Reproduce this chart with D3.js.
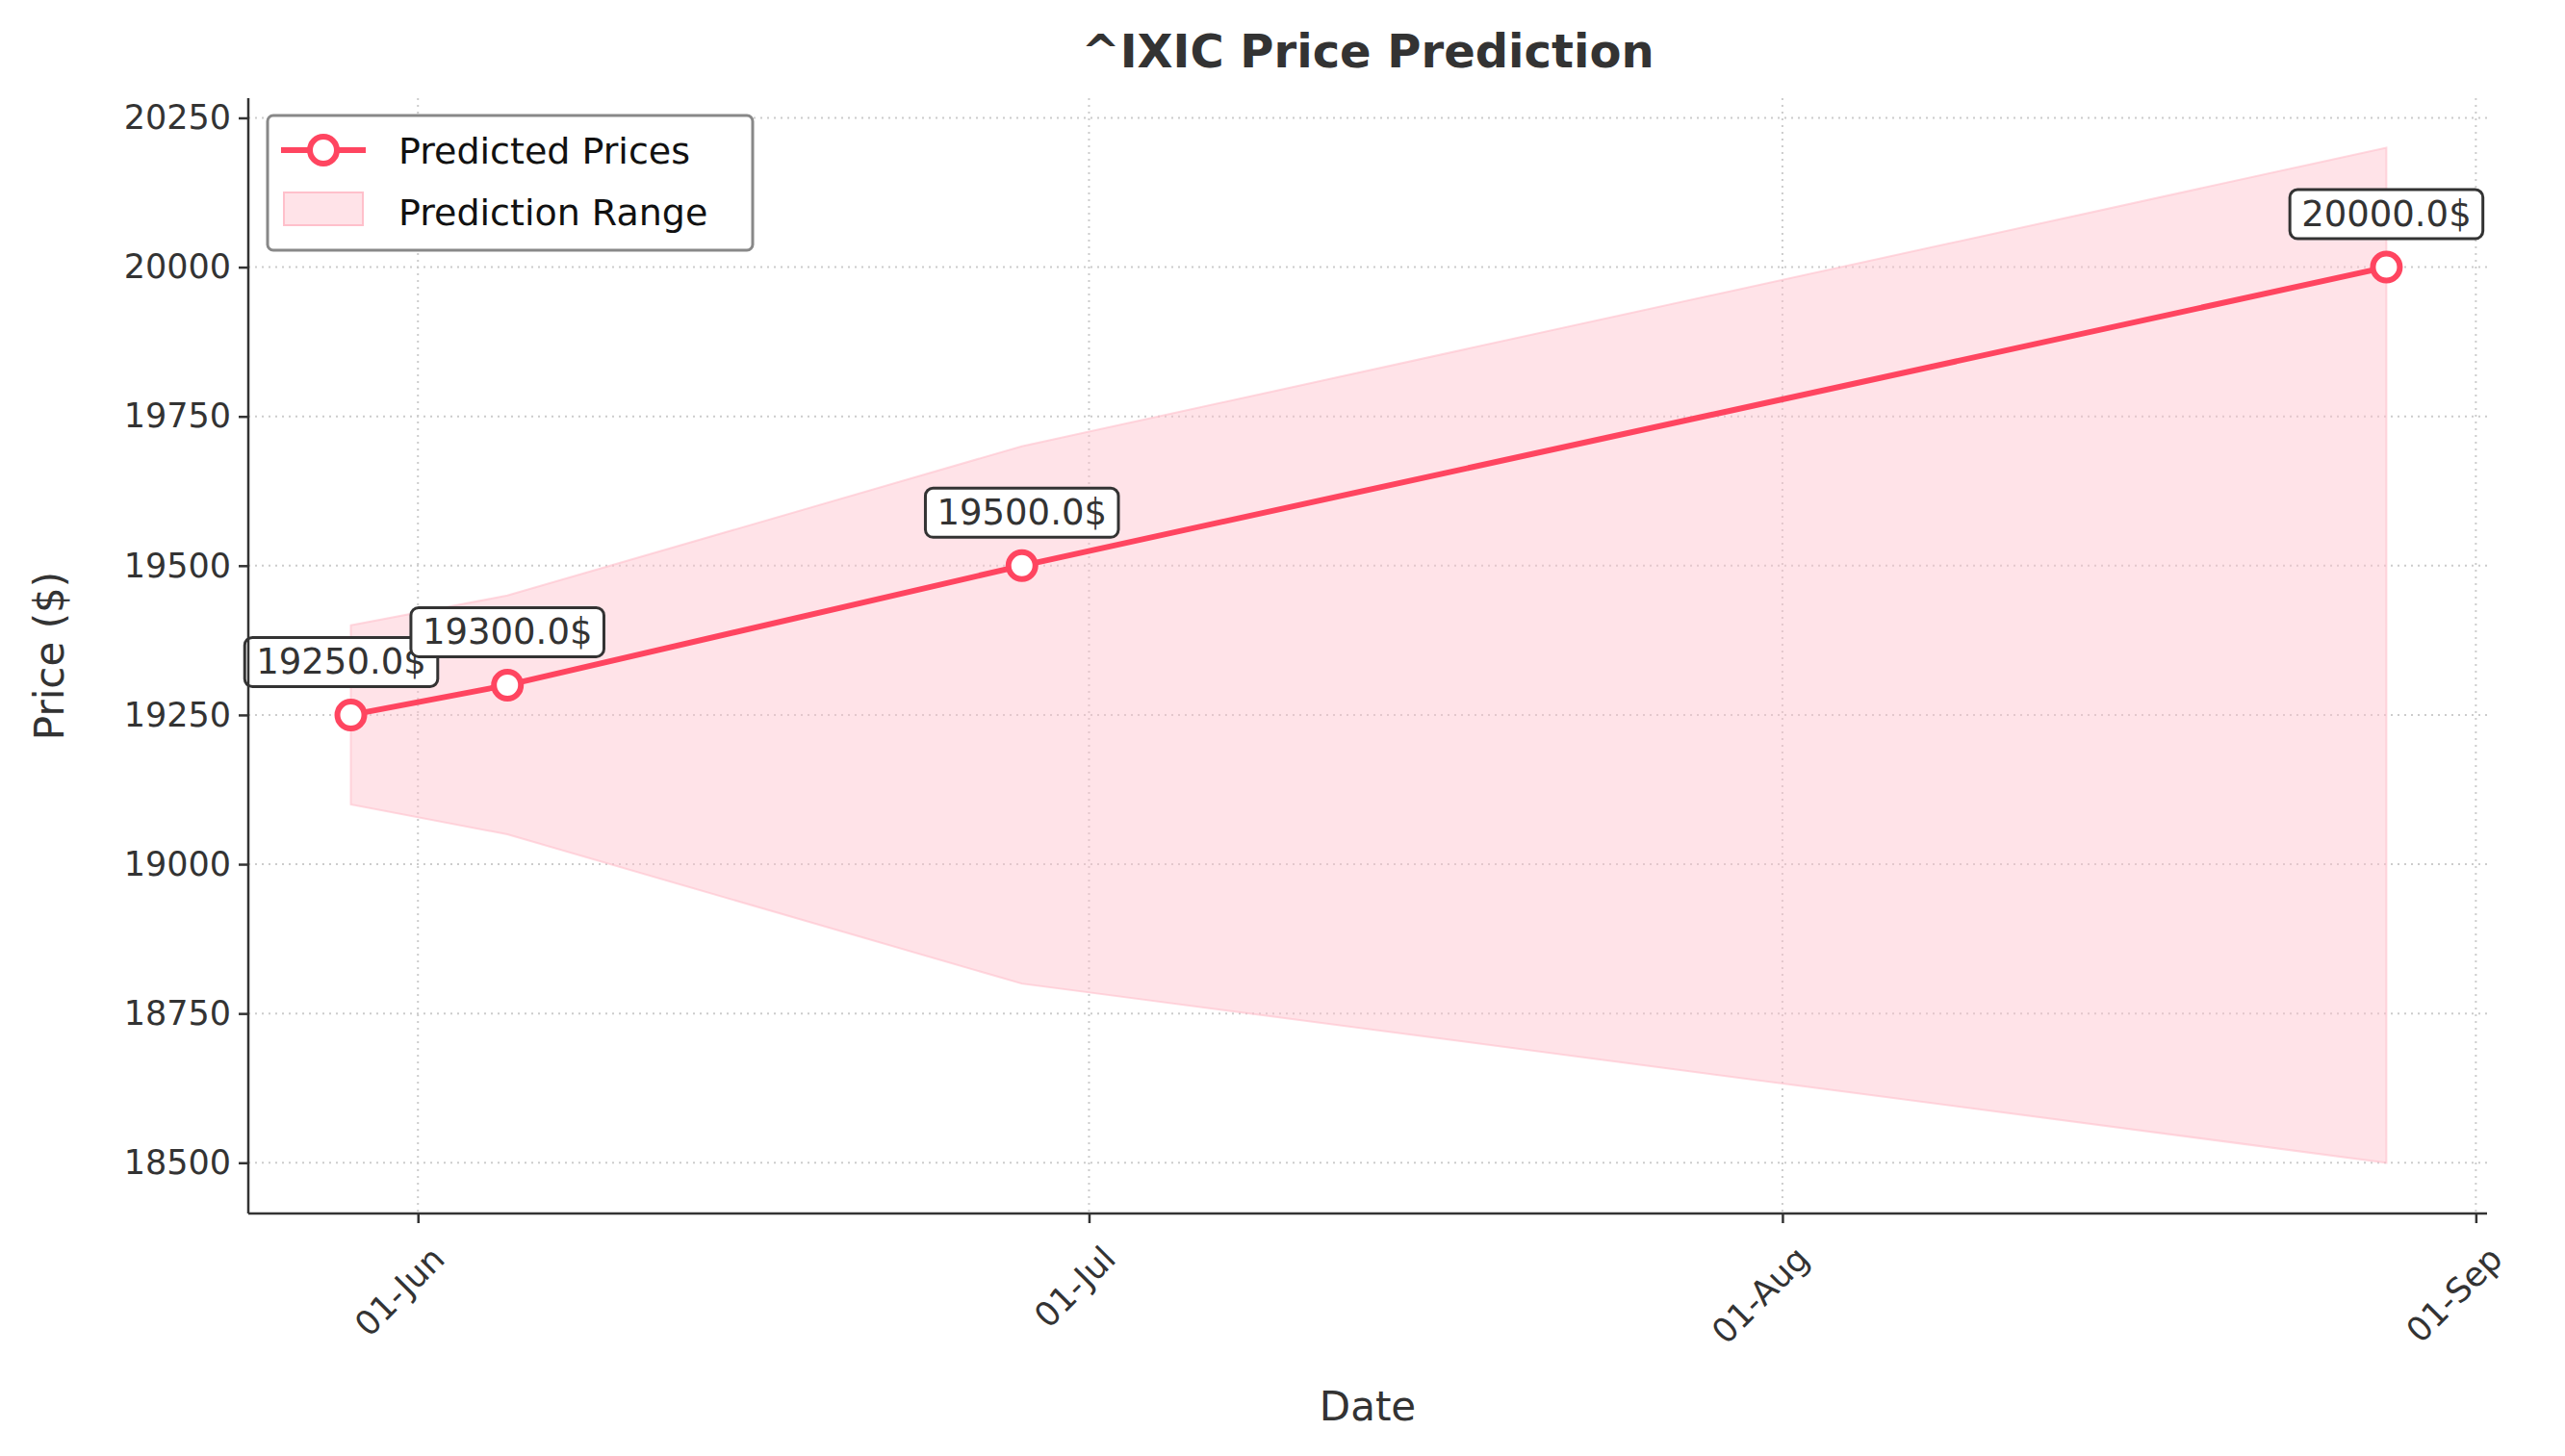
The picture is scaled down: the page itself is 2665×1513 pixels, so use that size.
<!DOCTYPE html><html><head><script src="https://cdn.jsdelivr.net/npm/d3@7"></script>
<style>body{margin:0;background:#fff}text{font-family:"DejaVu Sans";fill:#333}</style></head><body>
<svg id="c" width="2665" height="1513"></svg>
<script>
const dates=["2024-05-29","2024-06-05","2024-06-28","2024-08-28"];
const predicted=[19250,19300,19500,20000];
const upper=[19400,19450,19700,20200];
const lower=[19100,19050,18800,18500];
const yTicks=[18500,18750,19000,19250,19500,19750,20000,20250];
const xTicks=["2024-06-01","2024-07-01","2024-08-01","2024-09-01"];
const P=d3.timeParse("%Y-%m-%d");
const svg=d3.select("#c");
const L=258,R=2584,T=102,B=1261,col="#ff4560";
const x=d3.scaleTime().domain([new Date(2024,4,24,10),new Date(2024,8,1,12)]).range([L,R]);
const y=d3.scaleLinear().domain([18415,20283]).range([B,T]);
const data=dates.map((d,i)=>({d:P(d),p:predicted[i],u:upper[i],l:lower[i]}));
yTicks.forEach(v=>svg.append("line").attr("x1",L).attr("x2",R).attr("y1",y(v)).attr("y2",y(v)).attr("stroke","#ccc").attr("stroke-width",2).attr("stroke-dasharray","2,5"));
xTicks.forEach(v=>svg.append("line").attr("y1",T).attr("y2",B).attr("x1",x(P(v))).attr("x2",x(P(v))).attr("stroke","#ccc").attr("stroke-width",2).attr("stroke-dasharray","2,5"));
svg.append("path").datum(data).attr("d",d3.area().x(d=>x(d.d)).y0(d=>y(d.l)).y1(d=>y(d.u))).attr("fill","#ffc0cb").attr("fill-opacity",0.45).attr("stroke","#ffc0cb").attr("stroke-opacity",0.6).attr("stroke-width",2);
svg.append("path").datum(data).attr("d",d3.line().x(d=>x(d.d)).y(d=>y(d.p))).attr("fill","none").attr("stroke",col).attr("stroke-width",6);
svg.selectAll(".pt").data(data).join("circle").attr("cx",d=>x(d.d)).attr("cy",d=>y(d.p)).attr("r",14).attr("fill","#fff").attr("stroke",col).attr("stroke-width",6);
data.forEach(d=>{
 const cx=x(d.d)+ (d.p===19250?-10:0),cy=y(d.p)-55;
 const g=svg.append("g");
 const t=g.append("text").attr("x",cx).attr("y",cy).attr("text-anchor","middle").attr("dominant-baseline","central").attr("font-size",37).text(d.p.toFixed(1)+"$");
 const bb=t.node().getBBox();
 g.insert("rect","text").attr("x",bb.x-12).attr("y",bb.y-4).attr("width",bb.width+24).attr("height",bb.height+8).attr("rx",8).attr("fill","#fff").attr("stroke","#333").attr("stroke-width",3);
});
const ya=svg.append("g").attr("transform",`translate(${L},0)`).call(d3.axisLeft(y).tickValues(yTicks).tickFormat(d3.format("d")).tickSize(10).tickPadding(8));
const xa=svg.append("g").attr("transform",`translate(0,${B})`).call(d3.axisBottom(x).tickValues(xTicks.map(P)).tickFormat(d3.timeFormat("%d-%b")).tickSize(10));
[ya,xa].forEach(a=>{a.selectAll("path,line").attr("stroke","#333").attr("stroke-width",2.5);a.selectAll("text").attr("font-size",35).style("fill","#333").attr("font-family","DejaVu Sans");});
xa.select(".domain").attr("d",`M${L},0H${R}`);ya.select(".domain").attr("d",`M0,${T}V${B}`);
xa.selectAll("text").attr("text-anchor","end").attr("dy","0").attr("transform","translate(20,40) rotate(-45)");
svg.append("text").attr("x",(L+R)/2).attr("y",70).attr("text-anchor","middle").attr("font-size",48).attr("font-weight","bold").text("^IXIC Price Prediction");
svg.append("text").attr("x",(L+R)/2).attr("y",1476).attr("text-anchor","middle").attr("font-size",42).text("Date");
svg.append("text").attr("transform",`translate(66,${(T+B)/2}) rotate(-90)`).attr("text-anchor","middle").attr("font-size",42).text("Price ($)");
const lg=svg.append("g");
lg.append("rect").attr("x",278).attr("y",120).attr("width",504).attr("height",140).attr("rx",6).attr("fill","#fff").attr("stroke","#888").attr("stroke-width",3);
lg.append("line").attr("x1",292).attr("x2",380).attr("y1",156).attr("y2",156).attr("stroke",col).attr("stroke-width",6);
lg.append("circle").attr("cx",336).attr("cy",156).attr("r",14).attr("fill","#fff").attr("stroke",col).attr("stroke-width",6);
lg.append("rect").attr("x",295).attr("y",200).attr("width",82).attr("height",34).attr("fill","#ffc0cb").attr("fill-opacity",0.45).attr("stroke","#ffc0cb").attr("stroke-width",2);
lg.append("text").attr("x",414).attr("y",170).attr("font-size",38).style("fill","#111").text("Predicted Prices");
lg.append("text").attr("x",414).attr("y",234).attr("font-size",38).style("fill","#111").text("Prediction Range");
</script></body></html>
